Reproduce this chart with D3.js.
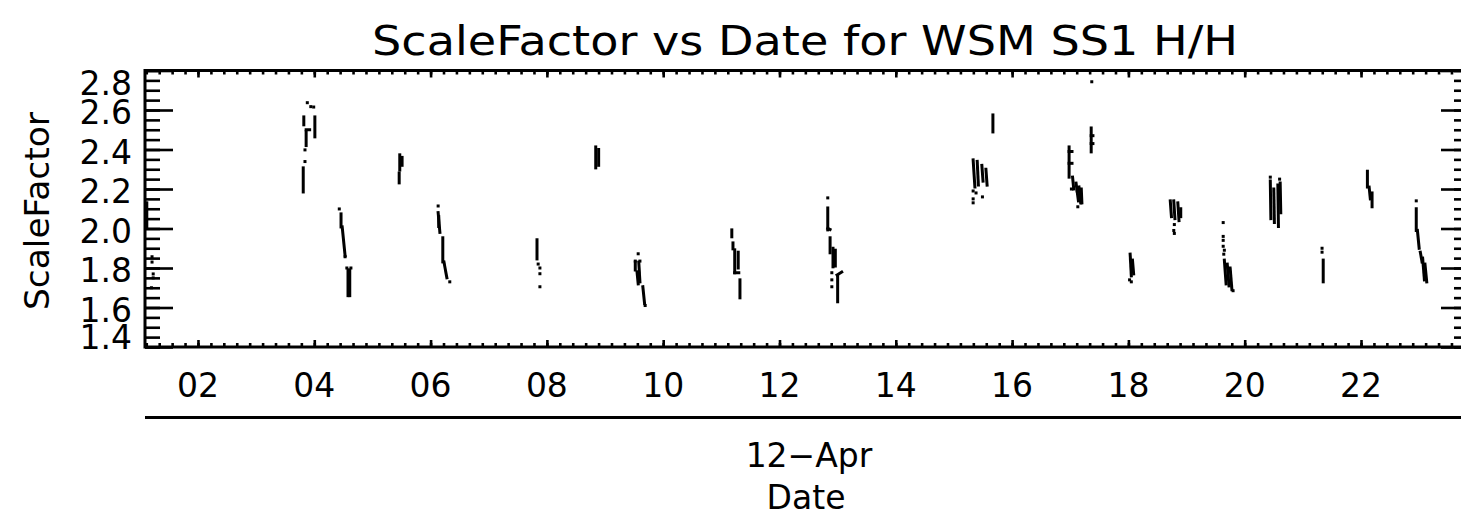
<!DOCTYPE html>
<html>
<head>
<meta charset="utf-8">
<script src="https://cdn.jsdelivr.net/npm/d3@7/dist/d3.min.js"></script>
<style>
  html, body { margin: 0; padding: 0; background: #fff; }
  svg { display: block; }
  text { font-family: "DejaVu Sans", sans-serif; fill: #000; }
</style>
</head>
<body>
<div id="chart"></div>
<script>
// days are decimal days of April 2012
var xStart = 1.089, xEnd = 23.857;
var dayTicks = [2, 4, 6, 8, 10, 12, 14, 16, 18, 20, 22];
var yTicks = [1.4, 1.6, 1.8, 2.0, 2.2, 2.4, 2.6, 2.8];

// short pieces of each pass: [day1, value1, day2, value2]
var segments = [
  [1.12, 2.13, 1.12, 2.01],
  [3.82, 2.565, 3.82, 2.525], [4.01, 2.565, 4.01, 2.464], [3.86, 2.49, 3.86, 2.42], [3.86, 2.50, 3.92, 2.50], [3.81, 2.307, 3.81, 2.185],
  [4.46, 2.074, 4.46, 2.008], [4.48, 2.008, 4.53, 1.862], [4.58, 1.79, 4.58, 1.66], [4.61, 1.79, 4.61, 1.66],
  [5.47, 2.373, 5.47, 2.296], [5.46, 2.281, 5.46, 2.231], [5.51, 2.36, 5.51, 2.32],
  [6.13, 2.08, 6.16, 1.98], [6.14, 2.06, 6.14, 2.01], [6.21, 1.953, 6.21, 1.831], [6.23, 1.83, 6.28, 1.75],
  [7.83, 1.943, 7.83, 1.846],
  [8.84, 2.413, 8.84, 2.307], [8.89, 2.40, 8.89, 2.32],
  [9.52, 1.83, 9.52, 1.79], [9.58, 1.83, 9.60, 1.73], [9.55, 1.78, 9.57, 1.72], [9.65, 1.705, 9.68, 1.62],
  [11.18, 1.993, 11.18, 1.958], [11.20, 1.927, 11.20, 1.897], [11.23, 1.892, 11.23, 1.776], [11.29, 1.88, 11.29, 1.80], [11.23, 1.776, 11.30, 1.776], [11.32, 1.74, 11.32, 1.649],
  [12.83, 2.104, 12.83, 1.993], [12.83, 2.0, 12.87, 1.995], [12.87, 1.953, 12.87, 1.877], [12.92, 1.90, 12.92, 1.806], [12.96, 1.89, 12.96, 1.81], [12.99, 1.765, 13.07, 1.78], [13.0, 1.76, 13.0, 1.629],
  [15.33, 2.347, 15.36, 2.21], [15.40, 2.34, 15.42, 2.22], [15.48, 2.32, 15.50, 2.24], [15.55, 2.30, 15.57, 2.22],
  [15.67, 2.575, 15.67, 2.489],
  [16.98, 2.413, 16.98, 2.26], [16.98, 2.39, 17.03, 2.39], [16.98, 2.33, 17.03, 2.33], [17.04, 2.26, 17.06, 2.20], [17.10, 2.23, 17.14, 2.14], [17.15, 2.21, 17.18, 2.13], [17.19, 2.20, 17.20, 2.13],
  [17.36, 2.509, 17.36, 2.388], [17.36, 2.47, 17.39, 2.47], [17.36, 2.43, 17.39, 2.43],
  [18.03, 1.87, 18.05, 1.76], [18.07, 1.84, 18.09, 1.77],
  [18.72, 2.14, 18.74, 2.06], [18.78, 2.14, 18.80, 2.05], [18.85, 2.13, 18.87, 2.04], [18.90, 2.10, 18.90, 2.06],
  [19.65, 1.84, 19.68, 1.72], [19.70, 1.82, 19.73, 1.71], [19.75, 1.80, 19.78, 1.69],
  [20.44, 2.24, 20.45, 2.05], [20.50, 2.20, 20.51, 2.03], [20.57, 2.22, 20.58, 2.01], [20.61, 2.23, 20.62, 2.08],
  [21.35, 1.84, 21.35, 1.73],
  [22.11, 2.29, 22.11, 2.21], [22.14, 2.21, 22.16, 2.15], [22.19, 2.18, 22.19, 2.11],
  [22.95, 2.10, 22.95, 1.99], [22.97, 1.99, 23.0, 1.90], [23.02, 1.88, 23.05, 1.83], [23.06, 1.85, 23.09, 1.74], [23.10, 1.82, 23.13, 1.73]
];

// isolated points: [day, value]
var dots = [
  [1.21, 1.857], [1.21, 1.83], [1.23, 1.77], [1.23, 1.75], [1.20, 1.70],
  [3.88, 2.637], [3.94, 2.617], [3.99, 2.615], [3.84, 2.398], [3.84, 2.339],
  [4.43, 2.099], [4.53, 1.857], [4.56, 1.80], [4.63, 1.80],
  [6.13, 2.114], [6.33, 1.73],
  [7.85, 1.82], [7.88, 1.80], [7.88, 1.771], [7.88, 1.705],
  [9.57, 1.872], [9.52, 1.835], [9.60, 1.835], [9.69, 1.61],
  [12.83, 2.155], [12.90, 1.776], [12.90, 1.74], [12.90, 1.705],
  [15.33, 2.19], [15.33, 2.15], [15.33, 2.13], [15.49, 2.16], [15.38, 2.18],
  [17.13, 2.11], [17.12, 2.19], [17.02, 2.20],
  [17.37, 2.743],
  [18.02, 1.74], [18.05, 1.73],
  [18.79, 2.02], [18.78, 1.99], [18.79, 1.975],
  [19.63, 2.03], [19.63, 1.96], [19.63, 1.94], [19.63, 1.91], [19.65, 1.89], [19.64, 1.87], [19.80, 1.685],
  [20.44, 2.26], [20.60, 2.25],
  [21.33, 1.90], [21.33, 1.88],
  [22.95, 2.14]
];

var W = 1461, H = 517;
var pLeft = 145, pRight = 1469, pTop = 70.5, pBottom = 347;
var day0 = Date.UTC(2012, 3, 1);
function toDate(d) { return new Date(day0 + (d - 1) * 864e5); }

var svg = d3.select("#chart").append("svg")
    .attr("width", W)
    .attr("height", H);

var x = d3.scaleUtc().domain([toDate(xStart), toDate(xEnd)]).range([pLeft, pRight]);
var y = d3.scaleLinear().domain([1.4, 2.8]).range([pBottom, pTop]);

var majorX = dayTicks.map(toDate);
var minorX = [];
var step = 2 * 864e5 / 9;
for (var t = majorX[0].getTime() - 9 * step; t < x.domain()[1].getTime(); t += step) {
  if (t > x.domain()[0].getTime()) minorX.push(new Date(t));
}
var minorY = d3.range(1.4, 2.8001, 0.05);

var ax = svg.append("g");

// bottom / top ticks
ax.append("g").attr("transform", "translate(0," + pBottom + ")")
  .call(d3.axisBottom(x).tickValues(minorX).tickSizeInner(-4).tickSizeOuter(0).tickFormat(""));
ax.append("g").attr("transform", "translate(0," + pBottom + ")")
  .call(d3.axisBottom(x).tickValues(majorX).tickSizeInner(-7).tickSizeOuter(0).tickFormat(""));
ax.append("g").attr("transform", "translate(0," + pTop + ")")
  .call(d3.axisTop(x).tickValues(minorX).tickSizeInner(-4).tickSizeOuter(0).tickFormat(""));
ax.append("g").attr("transform", "translate(0," + pTop + ")")
  .call(d3.axisTop(x).tickValues(majorX).tickSizeInner(-7).tickSizeOuter(0).tickFormat(""));

// left / right ticks
ax.append("g").attr("transform", "translate(" + pLeft + ",0)")
  .call(d3.axisLeft(y).tickValues(minorY).tickSizeInner(-15).tickSizeOuter(0).tickFormat(""));
ax.append("g").attr("transform", "translate(" + pLeft + ",0)")
  .call(d3.axisLeft(y).tickValues(yTicks).tickSizeInner(-28).tickSizeOuter(0).tickFormat(""));
ax.append("g").attr("transform", "translate(" + pRight + ",0)")
  .call(d3.axisRight(y).tickValues(minorY).tickSizeInner(-15).tickSizeOuter(0).tickFormat(""));
ax.append("g").attr("transform", "translate(" + pRight + ",0)")
  .call(d3.axisRight(y).tickValues(yTicks).tickSizeInner(-28).tickSizeOuter(0).tickFormat(""));

ax.selectAll(".domain").remove();
ax.selectAll(".tick line").attr("stroke", "#000").attr("stroke-width", 2.6);

// frame
svg.append("rect")
  .attr("x", pLeft).attr("y", pTop)
  .attr("width", pRight - pLeft).attr("height", pBottom - pTop)
  .attr("fill", "none").attr("stroke", "#000").attr("stroke-width", 3);

// x labels
svg.selectAll(".xlab").data(majorX).enter().append("text")
  .attr("class", "xlab")
  .attr("x", function(d) { return x(d); })
  .attr("y", 397)
  .attr("text-anchor", "middle")
  .attr("font-size", "33px")
  .text(d3.utcFormat("%d"));

// y labels, end labels kept inside the box
svg.selectAll(".ylab").data(yTicks).enter().append("text")
  .attr("class", "ylab")
  .attr("x", 132)
  .attr("y", function(d) { return Math.max(pTop + 24, Math.min(pBottom + 2, y(d) + 14)); })
  .attr("text-anchor", "end")
  .attr("font-size", "33px")
  .text(d3.format(".1f"));

// data
var g = svg.append("g");
g.selectAll("line").data(segments).enter().append("line")
  .attr("x1", function(d) { return x(toDate(d[0])); })
  .attr("y1", function(d) { return y(d[1]); })
  .attr("x2", function(d) { return x(toDate(d[2])); })
  .attr("y2", function(d) { return y(d[3]); })
  .attr("stroke", "#000")
  .attr("stroke-width", 3)
  .attr("stroke-linecap", "square");
g.selectAll("rect").data(dots).enter().append("rect")
  .attr("x", function(d) { return x(toDate(d[0])) - 1.5; })
  .attr("y", function(d) { return y(d[1]) - 1.5; })
  .attr("width", 3).attr("height", 3)
  .attr("fill", "#000");

// second level date axis
svg.append("line")
  .attr("x1", pLeft).attr("x2", W)
  .attr("y1", 417.5).attr("y2", 417.5)
  .attr("stroke", "#000").attr("stroke-width", 3);

svg.append("text")
  .attr("x", 809).attr("y", 467)
  .attr("text-anchor", "middle")
  .attr("font-size", "33px")
  .text(d3.utcFormat("%y-%b")(toDate(12)).replace("-", "\u2212"));

svg.append("text")
  .attr("x", 806).attr("y", 509)
  .attr("text-anchor", "middle")
  .attr("font-size", "33px")
  .text("Date");

svg.append("text")
  .attr("transform", "translate(49,211) rotate(-90)")
  .attr("text-anchor", "middle")
  .attr("font-size", "33px")
  .attr("textLength", 198)
  .attr("lengthAdjust", "spacingAndGlyphs")
  .text("ScaleFactor");

svg.append("text")
  .attr("x", 805).attr("y", 55)
  .attr("text-anchor", "middle")
  .attr("font-size", "41px")
  .attr("textLength", 866)
  .attr("lengthAdjust", "spacingAndGlyphs")
  .text("ScaleFactor vs Date for WSM SS1 H/H");
</script>
</body>
</html>
